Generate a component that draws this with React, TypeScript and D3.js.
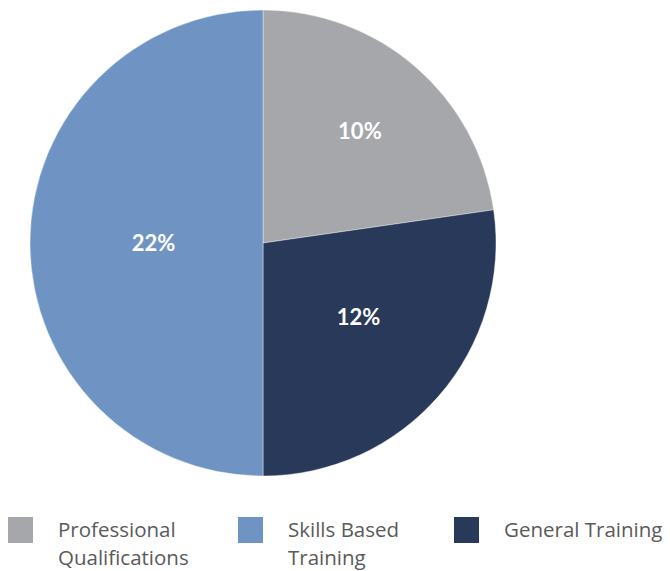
import { useEffect, useRef } from 'react';
import * as d3 from 'd3';

const categories = ['Professional Qualifications', 'Skills Based Training', 'General Training'];
const values = [10, 22, 12];
const colors = ['#a6a7ab', '#6f94c3', '#29395a'];
// order slices are drawn clockwise from 12 o'clock
const sliceOrder = [0, 2, 1];
const legendLines = [['Professional', 'Qualifications'], ['Skills Based', 'Training'], ['General Training']];
const labelFrac: Record<number, number> = { 0: 0.635, 2: 0.52, 1: 0.47 };

export default function App() {
  const svgRef = useRef<SVGSVGElement>(null);

  useEffect(() => {
    if (!svgRef.current) return;
    const W = 670, H = 571;
    const cx = 263, cy = 243, R = 233;
    const svg = d3.select(svgRef.current).attr('width', W).attr('height', H);
    svg.selectAll('*').remove();

    const data = sliceOrder.map(i => ({ i, v: values[i] }));
    const pie = d3.pie<{ i: number; v: number }>().value(d => d.v).sort(null);
    const arcs = pie(data);
    const arc = d3.arc<d3.PieArcDatum<{ i: number; v: number }>>().innerRadius(0).outerRadius(R);

    const g = svg.append('g').attr('transform', `translate(${cx},${cy})`);
    g.selectAll('path.slice').data(arcs).enter().append('path')
      .attr('d', arc)
      .style('fill', d => colors[d.data.i])
      .style('stroke', '#ffffff').style('stroke-width', 0.8).style('stroke-opacity', 0.5);

    g.selectAll('text.lbl').data(arcs).enter().append('text')
      .attr('transform', d => {
        // nudge the lower-right label a little toward 3 o'clock
        const a = (d.startAngle + d.endAngle) / 2 - (d.data.i === 2 ? 0.05 : 0);
        const r = R * labelFrac[d.data.i];
        return `translate(${Math.sin(a) * r},${-Math.cos(a) * r})`;
      })
      .attr('text-anchor', 'middle').attr('dy', '0.35em')
      .style('fill', '#ffffff').style('font-family', 'Lato, sans-serif')
      .style('font-weight', 700).style('font-size', '22px')
      .text(d => `${d.data.v}%`);

    // Legend
    const legendX = [8, 238, 454];
    categories.forEach((c, k) => {
      const lg = svg.append('g').attr('transform', `translate(${legendX[k]},517)`);
      lg.append('rect').attr('width', 25).attr('height', 26).style('fill', colors[k]);
      const t = lg.append('text').attr('x', 50).attr('y', 20)
        .style('fill', '#5a5a5a').style('font-family', '"Open Sans", sans-serif').style('font-size', '20.5px');
      legendLines[k].forEach((ln, j) => {
        t.append('tspan').attr('x', 50).attr('dy', j === 0 ? 0 : 28).text(ln);
      });
      t.attr('aria-label', c);
    });
  }, []);

  return (
    <div style={{ position: 'absolute', left: 0, top: 0 }}>
      <svg ref={svgRef} style={{ display: 'block' }} />
    </div>
  );
}
